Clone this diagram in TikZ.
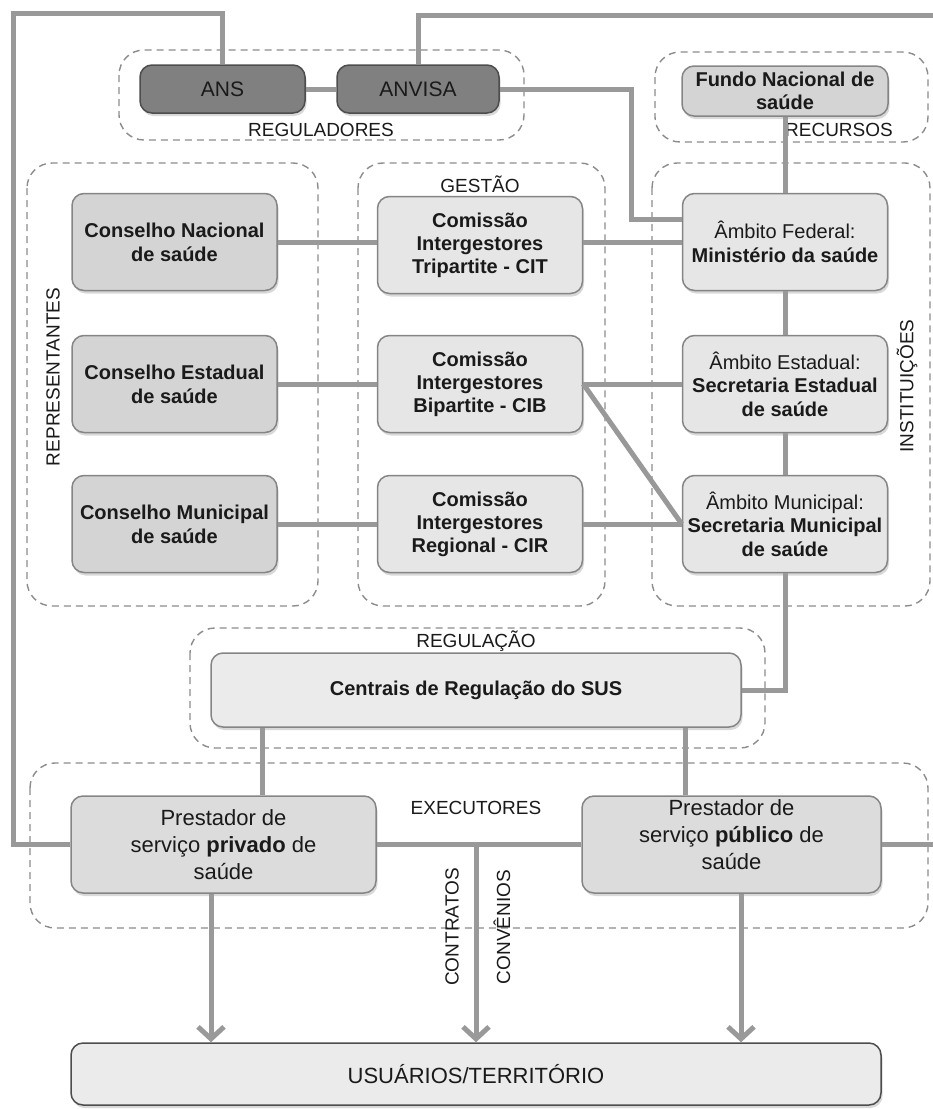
\documentclass[tikz,border=0pt]{standalone}
\usepackage{fontspec}
\setmainfont{Liberation Sans}
\usetikzlibrary{arrows.meta,shadows}
\definecolor{conncol}{HTML}{999999}
\definecolor{dashcol}{HTML}{8C8C8C}
\definecolor{boxline}{HTML}{858585}
\definecolor{darkfill}{HTML}{808080}
\definecolor{darkline}{HTML}{4D4D4D}
\definecolor{midfill}{HTML}{D4D4D4}
\definecolor{lightfill}{HTML}{E6E6E6}
\definecolor{prestfill}{HTML}{DCDCDC}
\definecolor{userfill}{HTML}{EBEBEB}
\definecolor{txt}{HTML}{1A1A1A}
\begin{document}
\begin{tikzpicture}[x=1pt,y=-1pt,
  every node/.style={text=txt},
  box/.style={rectangle, rounded corners=12pt, draw=boxline, line width=1.5pt, align=center, inner sep=0pt,
    font=\fontsize{20}{24}\selectfont,
    drop shadow={opacity=0.3,shadow xshift=1.5pt,shadow yshift=-3pt}},
  darkbox/.style={box, fill=darkfill, draw=darkline, font=\fontsize{21}{25}\selectfont},
  consbox/.style={box, fill=midfill, minimum width=205pt, minimum height=97pt, font=\bfseries\fontsize{20}{24}\selectfont},
  gestbox/.style={box, fill=lightfill, minimum width=205pt, minimum height=97pt, font=\bfseries\fontsize{20}{23}\selectfont},
  instbox/.style={box, fill=lightfill, minimum width=205pt, minimum height=97pt, font=\fontsize{20}{23.5}\selectfont},
  prestbox/.style={box, fill=prestfill, minimum height=97pt, font=\fontsize{22}{27}\selectfont},
  group/.style={draw=dashcol, line width=1.4pt, dash pattern=on 7pt off 5pt, rounded corners=25pt},
  grouplabel/.style={font=\fontsize{19}{22}\selectfont, inner sep=0pt},
  conn/.style={draw=conncol, line width=5pt},
  arr/.style={conn, -{Straight Barb[length=12pt,width=26pt]}}
]
\useasboundingbox (0,0) rectangle (933,1109);

% dashed groups
\draw[group] (119,50) rectangle (524,140);
\draw[group] (655,52) rectangle (928,142);
\draw[group] (27,163) rectangle (318,606);
\draw[group] (358,163) rectangle (605,606);
\draw[group] (652,163) rectangle (930,606);
\draw[group] (190,628) rectangle (765,748);
\draw[group] (30,763) rectangle (928,928);

% group labels
\node[grouplabel] (lreg) at (321,130) {REGULADORES};
\node[grouplabel] (lrec) at (839,130) {RECURSOS};
\node[grouplabel] (lges) at (480,184) {GESTÃO};
\node[grouplabel, rotate=90] (lrep) at (53,377) {REPRESENTANTES};
\node[grouplabel, rotate=90] (lins) at (907,386) {INSTITUIÇÕES};
\node[grouplabel] (lrgl) at (476,641) {REGULAÇÃO};
\node[grouplabel] (lexe) at (476,808) {EXECUTORES};
\node[grouplabel, rotate=90] (lcon) at (452,927) {CONTRATOS};
\node[grouplabel, rotate=90] (lcnv) at (502,927) {CONVÊNIOS};

% nodes
\node[darkbox, minimum width=165pt, minimum height=48pt] (ans) at (222.5,89) {ANS};
\node[darkbox, minimum width=162pt, minimum height=48pt] (anvisa) at (418,89) {ANVISA};
\node[box, fill=midfill, minimum width=206pt, minimum height=50pt, font=\bfseries\fontsize{20}{23}\selectfont] (fundo) at (785,91) {Fundo Nacional de\\saúde};

\node[consbox] (cn) at (174.5,242) {Conselho Nacional\\de saúde};
\node[consbox] (ce) at (174.5,384) {Conselho Estadual\\de saúde};
\node[consbox] (cm) at (174.5,524) {Conselho Municipal\\de saúde};

\node[gestbox] (cit) at (480,245) {Comissão\\Intergestores\\Tripartite - CIT};
\node[gestbox] (cib) at (480,384) {Comissão\\Intergestores\\Bipartite - CIB};
\node[gestbox] (cir) at (480,524) {Comissão\\Intergestores\\Regional - CIR};

\node[instbox] (fed) at (785,242) {Âmbito Federal:\\\textbf{Ministério da saúde}};
\node[instbox] (est) at (785,384) {Âmbito Estadual:\\\textbf{Secretaria Estadual}\\\textbf{de saúde}};
\node[instbox] (mun) at (785,524) {Âmbito Municipal:\\\textbf{Secretaria Municipal}\\\textbf{de saúde}};

\node[box, fill=userfill, minimum width=530pt, minimum height=74pt, font=\bfseries\fontsize{20}{24}\selectfont] (cen) at (476,690) {Centrais de Regulação do SUS};

\node[prestbox, minimum width=305pt] (priv) at (223.5,844.5) {Prestador de\\serviço \textbf{privado} de\\saúde};
\node[prestbox, minimum width=299pt] (pub) at (731.5,844.5) {Prestador de\\serviço \textbf{público} de\\saúde\\[-8pt]\mbox{}};

\node[box, fill=userfill, draw=darkline, minimum width=810pt, minimum height=62pt, font=\fontsize{22}{26}\selectfont] (usr) at (476,1074) {USUÁRIOS/TERRITÓRIO};

% helper coordinates
\coordinate (tl) at (13,13);
\coordinate (tr) at (950,15);
\coordinate (b1) at (631,219);
\coordinate (xpl) at (262,0);
\coordinate (xpu) at (685,0);
\coordinate (xmid) at (476,0);
\coordinate (xpa) at (211,0);
\coordinate (xpb) at (741,0);

% connectors
\draw[conn] (ans.north) |- (tl) |- (priv.west);
\draw[conn] (anvisa.north) |- (tr) |- (pub.east);
\draw[conn] (ans.east) -- (anvisa.west);
\draw[conn] (anvisa.east) -| (b1) -- (fed.west |- b1);
\draw[conn] (fundo.south) -- (fed.north);
\draw[conn] (cn.east) -- (cn.east -| cit.west);
\draw[conn] (cit.east |- fed.west) -- (fed.west);
\draw[conn] (ce.east) -- (cib.west);
\draw[conn] (cib.east) -- (est.west);
\draw[conn] (cib.east) -- (mun.west);
\draw[conn] (cm.east) -- (cir.west);
\draw[conn] (cir.east) -- (mun.west);
\draw[conn] (fed.south) -- (est.north);
\draw[conn] (est.south) -- (mun.north);
\draw[conn] (mun.south) |- (cen.east);
\draw[conn] (cen.south -| xpl) -- (priv.north -| xpl);
\draw[conn] (cen.south -| xpu) -- (pub.north -| xpu);
\draw[conn] (priv.east) -- (pub.west |- priv.east);
\draw[arr] (priv.east -| xmid) -- (usr.north -| xmid);
\draw[arr] (priv.south -| xpa) -- (usr.north -| xpa);
\draw[arr] (pub.south -| xpb) -- (usr.north -| xpb);
\end{tikzpicture}
\end{document}
